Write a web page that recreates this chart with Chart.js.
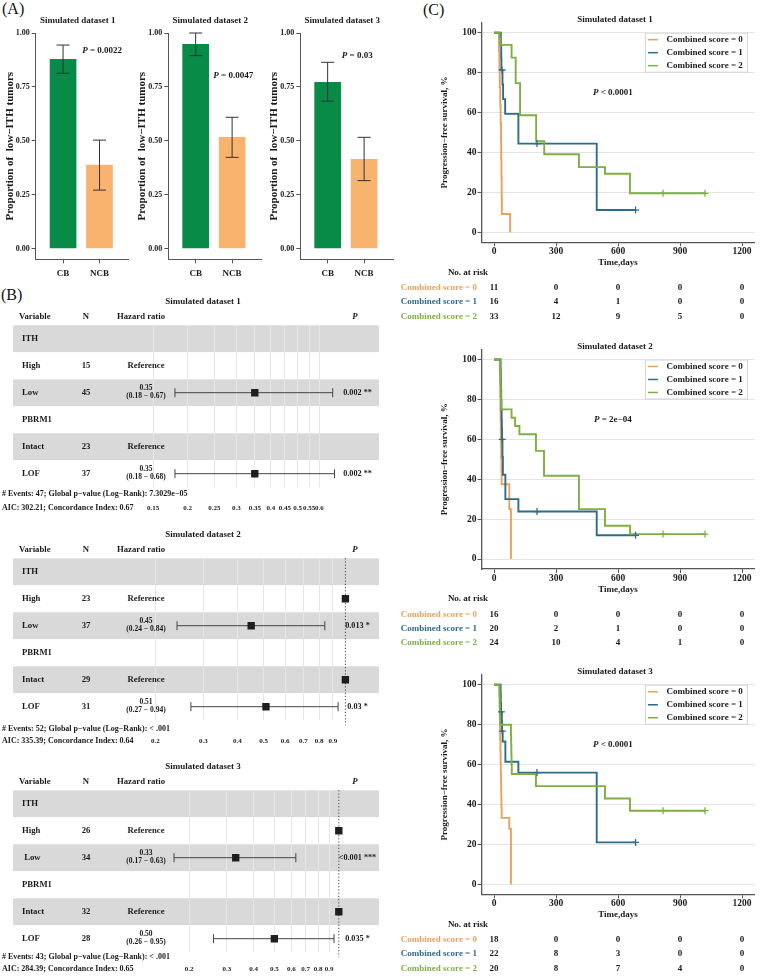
<!DOCTYPE html>
<html>
<head>
<meta charset="utf-8">
<title>Simulated datasets</title>
<script src="https://cdn.jsdelivr.net/npm/chart.js@4.4.1/dist/chart.umd.min.js"></script>
<style>
  html, body { margin: 0; padding: 0; background: #fff; }
  #page { position: relative; width: 760px; height: 979px; overflow: hidden; }
  #page canvas { position: absolute; left: 0; top: 0; }
  .tag { position: absolute; font-family: 'Liberation Serif', 'Times New Roman', serif; font-size: 16px; line-height: 16px; color: #111; }
</style>
</head>
<body>
<div id="page">
  <div class="tag" style="left:2px;top:1px">(A)</div>
  <div class="tag" style="left:1px;top:287px">(B)</div>
  <div class="tag" style="left:423px;top:2px">(C)</div>
</div>
<script>
// ---------- panel A : proportion of low-ITH tumors ----------
const barGroups = ['CB', 'NCB'];
const barTicks = [0, 0.25, 0.5, 0.75, 1];
const propDs1 = [0.878, 0.387], lowDs1 = [0.813, 0.271], highDs1 = [0.944, 0.503];
const propDs2 = [0.948, 0.516], lowDs2 = [0.895, 0.423], highDs2 = [1.0, 0.609];
const propDs3 = [0.771, 0.414], lowDs3 = [0.684, 0.315], highDs3 = [0.864, 0.516];
const barP = ['0.0022', '0.0047', '0.03'];

// ---------- panel B : forest plots ----------
const forestRows = ['ITH', 'High', 'Low', 'PBRM1', 'Intact', 'LOF'];
const forest3Rows = ['ITH', 'High', ' Low', 'PBRM1', 'Intact', 'LOF'];
const forest1N = ['', '15', '45', '', '23', '37'];
const forest1HR = [null, 1, 0.35, null, 1, 0.35];
const forest1Lo = [null, null, 0.18, null, null, 0.18];
const forest1Hi = [null, null, 0.67, null, null, 0.68];
const forest1P = ['', '', '0.002 **', '', '', '0.002 **'];
const forest1Ticks = [0.15, 0.2, 0.25, 0.3, 0.35, 0.4, 0.45, 0.5, 0.55, 0.6];
const forest1Notes = ['# Events: 47; Global p\u2212value (Log\u2212Rank): 7.3029e\u221205', 'AIC: 302.21; Concordance Index: 0.67'];

const forest2N = ['', '23', '37', '', '29', '31'];
const forest2HR = [null, 1, 0.45, null, 1, 0.51];
const forest2Lo = [null, null, 0.24, null, null, 0.27];
const forest2Hi = [null, null, 0.84, null, null, 0.94];
const forest2P = ['', '', '0.013 *', '', '', '0.03 *'];
const forest2Ticks = [0.2, 0.3, 0.4, 0.5, 0.6, 0.7, 0.8, 0.9];
const forest2Notes = ['# Events: 52; Global p\u2212value (Log\u2212Rank): < .001', 'AIC: 335.39; Concordance Index: 0.64'];

const forest3N = ['', '26', '34', '', '32', '28'];
const forest3HR = [null, 1, 0.33, null, 1, 0.50];
const forest3Lo = [null, null, 0.17, null, null, 0.26];
const forest3Hi = [null, null, 0.63, null, null, 0.95];
const forest3P = ['', '', '<0.001 ***', '', '', '0.035 *'];
const forest3Ticks = [0.2, 0.3, 0.4, 0.5, 0.6, 0.7, 0.8, 0.9];
const forest3Notes = ['# Events: 43; Global p\u2212value (Log\u2212Rank): < .001', 'AIC: 284.39; Concordance Index: 0.65'];

// ---------- panel C : Kaplan-Meier curves ----------
const scoreLabels = ['Combined score = 0', 'Combined score = 1', 'Combined score = 2'];
const riskTimes = [0, 300, 600, 900, 1200];
const kmTicks = [0, 20, 40, 60, 80, 100];

const km1T0 = [0, 24, 26, 28, 30, 32, 34, 35, 36, 37, 38, 78];
const km1S0 = [100, 90.9, 81.8, 72.7, 63.6, 54.5, 45.5, 36.4, 27.3, 18.2, 9.1, 0];
const km1T1 = [0, 33, 35, 36, 41, 44, 54, 118, 497, 685];
const km1S1 = [100, 93.8, 87.5, 81.3, 74.0, 66.7, 59.3, 44.4, 11.1, 11.1];
const km1C1 = [39, 208, 685];
const km1T2 = [0, 27, 30, 85, 105, 126, 204, 243, 411, 537, 658, 1021];
const km1S2 = [100, 97.0, 93.9, 87.5, 74.7, 58.6, 45.6, 39.1, 32.6, 29.3, 19.5, 19.5];
const km1C2 = [818, 1021];
const km1Risk = [[11, 0, 0, 0, 0], [16, 4, 1, 0, 0], [33, 12, 9, 5, 0]];

const km2T0 = [0, 28, 29, 30, 31, 32, 33, 34, 35, 36, 37, 74, 82];
const km2S0 = [100, 93.8, 87.5, 81.3, 75, 68.8, 62.5, 56.3, 50, 43.8, 37.5, 25, 0];
const km2T1 = [0, 32, 33, 34, 35, 36, 37, 38, 39, 41, 43, 55, 118, 497, 685];
const km2S1 = [100, 95, 90, 85, 80, 75, 70, 65, 60, 51.1, 42.2, 30, 23.8, 11.9, 11.9];
const km2C1 = [40, 208, 685];
const km2T2 = [0, 30, 31, 32, 33, 34, 35, 85, 102, 123, 203, 242, 411, 537, 658, 1021];
const km2S2 = [100, 95.8, 91.7, 87.5, 83.3, 79.2, 75, 70.8, 66.7, 62.5, 54.2, 41.7, 25, 16.7, 12.5, 12.5];
const km2C2 = [818, 1021];
const km2Risk = [[16, 0, 0, 0, 0], [20, 2, 1, 0, 0], [24, 10, 4, 1, 0]];

const km3T0 = [0, 26, 27, 28, 29, 30, 31, 32, 33, 34, 35, 36, 37, 74, 82];
const km3S0 = [100, 94.4, 88.9, 83.3, 77.8, 72.2, 66.7, 61.1, 55.6, 50, 44.4, 38.9, 33.3, 27.8, 0];
const km3T1 = [0, 32, 33, 34, 38, 39, 42, 55, 118, 497, 685];
const km3S1 = [100, 95.5, 90.9, 86.4, 81.6, 76.8, 71.6, 61.4, 56.0, 21.0, 21.0];
const km3C1 = [36, 40, 208, 685];
const km3T2 = [0, 27, 28, 29, 30, 82, 83, 84, 85, 86, 203, 537, 658, 1021];
const km3S2 = [100, 95, 90, 85, 80, 75, 70, 65, 60, 55.3, 49.2, 43.0, 36.9, 36.9];
const km3C2 = [818, 1021];
const km3Risk = [[18, 0, 0, 0, 0], [22, 8, 3, 0, 0], [20, 8, 7, 4, 0]];

// ---------- drawing ----------
const W = 760, H = 979;
const SERIF = "'Liberation Serif', 'Times New Roman', serif";
const INK = '#1a1a1a';
const barColors = ['#078B46', '#F8B36F'];
const scoreColors = ['#E8A25E', '#2E6C88', '#7FAF42'];

Chart.defaults.font.family = SERIF;
Chart.defaults.font.size = 9;
Chart.defaults.font.weight = 'bold';
Chart.defaults.color = INK;

const common = {
  responsive: false, animation: false, devicePixelRatio: 1, events: []
};

function makeCanvas() {
  const c = document.createElement('canvas');
  c.width = W; c.height = H;
  document.getElementById('page').appendChild(c);
  return c;
}

function txt(ctx, s, x, y, o) {
  o = o || {};
  ctx.save();
  ctx.font = (o.italic ? 'italic ' : '') + 'bold ' + (o.size || 9) + 'px ' + SERIF;
  ctx.fillStyle = o.color || INK;
  ctx.textAlign = o.align || 'left';
  ctx.textBaseline = 'middle';
  ctx.fillText(s, x, y);
  ctx.restore();
}

// italic P followed by the rest, centred on x
function pText(ctx, rest, x, y, size) {
  ctx.save();
  const fi = 'italic bold ' + size + 'px ' + SERIF, fb = 'bold ' + size + 'px ' + SERIF;
  ctx.font = fi; const w1 = ctx.measureText('P').width;
  ctx.font = fb; const w2 = ctx.measureText(rest).width;
  const x0 = x - (w1 + w2) / 2;
  ctx.textBaseline = 'middle'; ctx.textAlign = 'left'; ctx.fillStyle = INK;
  ctx.font = fi; ctx.fillText('P', x0, y);
  ctx.font = fb; ctx.fillText(rest, x0 + w1, y);
  ctx.restore();
}

// ---- bar charts
const errPlugin = {
  id: 'errbars',
  afterDatasetsDraw(chart, args, o) {
    const { ctx, scales: { x, y } } = chart;
    ctx.save();
    ctx.strokeStyle = '#333'; ctx.lineWidth = 1;
    o.low.forEach((lo, i) => {
      const px = x.getPixelForValue(i + 1);
      const a = y.getPixelForValue(lo), b = y.getPixelForValue(o.high[i]);
      ctx.beginPath();
      ctx.moveTo(px, a); ctx.lineTo(px, b);
      ctx.moveTo(px - 6.5, a); ctx.lineTo(px + 6.5, a);
      ctx.moveTo(px - 6.5, b); ctx.lineTo(px + 6.5, b);
      ctx.stroke();
    });
    ctx.restore();
  }
};

const barTextPlugin = {
  id: 'bartext',
  afterDraw(chart, args, o) {
    const { ctx, chartArea: a, scales: { x, y } } = chart;
    txt(ctx, o.title, a.left + 42, 21, { align: 'center' });
    pText(ctx, ' = ' + o.p, x.getPixelForValue(o.at[0]), y.getPixelForValue(o.at[1]), 9);
  }
};

function barChart(axisX, title, prop, low, high, p, at) {
  const L = axisX, R = axisX + 93, T = 33, B = 259.3, yW = 36, xH = 30;
  new Chart(makeCanvas(), {
    type: 'bar',
    data: {
      datasets: [{
        data: prop.map((v, i) => ({ x: i + 1, y: v })),
        backgroundColor: barColors, borderWidth: 0, barThickness: 26
      }]
    },
    options: Object.assign({}, common, {
      layout: { padding: { left: L - yW, top: T, right: W - R, bottom: H - B - xH } },
      scales: {
        x: {
          type: 'linear', min: 0.25, max: 2.8, offset: false,
          afterFit: s => { s.height = xH; },
          afterBuildTicks: s => { s.ticks = barGroups.map((g, i) => ({ value: i + 1 })); },
          ticks: { callback: v => barGroups[v - 1], padding: 5, maxRotation: 0, autoSkip: false },
          grid: { offset: false, drawOnChartArea: false, tickLength: 4, color: '#555' },
          border: { color: '#555' }
        },
        y: {
          min: -0.05, max: 1,
          afterFit: s => { s.width = yW; },
          afterBuildTicks: s => { s.ticks = barTicks.map(v => ({ value: v })); },
          ticks: { callback: v => v.toFixed(2), padding: 2, font: { size: 8 } },
          grid: { drawOnChartArea: false, tickLength: 4, color: '#555' },
          border: { color: '#555' },
          title: { display: true, text: 'Proportion of  low\u2212ITH tumors', font: { size: 11 }, padding: { top: 3.5, bottom: 0 } }
        }
      },
      plugins: {
        legend: { display: false }, tooltip: { enabled: false },
        errbars: { low: low, high: high },
        bartext: { title: title, p: p, at: at }
      }
    }),
    plugins: [errPlugin, barTextPlugin]
  });
}

barChart(35.7, 'Simulated dataset 1', propDs1, lowDs1, highDs1, barP[0], [2.07, 0.917]);
barChart(168.3, 'Simulated dataset 2', propDs2, lowDs2, highDs2, barP[1], [2.03, 0.80]);
barChart(300.3, 'Simulated dataset 3', propDs3, lowDs3, highDs3, barP[2], [1.81, 0.893]);

// ---- forest plots
function hrLines(hr, lo, hi) {
  if (hr == null) return null;
  if (lo == null) return ['Reference'];
  return [hr.toFixed(2), '(' + lo.toFixed(2) + ' \u2212 ' + hi.toFixed(2) + ')'];
}

const forestPlugin = {
  id: 'forest',
  beforeDraw(chart) {
    const { ctx, scales: { y } } = chart;
    ctx.save();
    ctx.fillStyle = '#d9d9d9';
    forestRows.forEach((r, i) => {
      if (i % 2 === 0) ctx.fillRect(13, y.getPixelForValue(i) - 13.4, 366, 26.8);
    });
    ctx.restore();
  },
  beforeDatasetsDraw(chart, args, o) {
    const { ctx, chartArea: a, scales: { x, y } } = chart;
    ctx.save();
    ctx.strokeStyle = '#444'; ctx.lineWidth = 1;
    if (x.max >= 1) {
      const px = x.getPixelForValue(1);
      ctx.setLineDash([1.2, 2]);
      ctx.beginPath(); ctx.moveTo(px, a.top); ctx.lineTo(px, a.bottom + 5); ctx.stroke();
      ctx.setLineDash([]);
    }
    o.lo.forEach((lo, i) => {
      if (lo == null) return;
      const py = y.getPixelForValue(i), p0 = x.getPixelForValue(lo), p1 = x.getPixelForValue(o.hi[i]);
      ctx.beginPath();
      ctx.moveTo(p0, py); ctx.lineTo(p1, py);
      ctx.moveTo(p0, py - 4.5); ctx.lineTo(p0, py + 4.5);
      ctx.moveTo(p1, py - 4.5); ctx.lineTo(p1, py + 4.5);
      ctx.stroke();
    });
    ctx.restore();
  },
  afterDraw(chart, args, o) {
    const { ctx, chartArea: a, scales: { y } } = chart;
    const y0 = y.getPixelForValue(0);
    txt(ctx, o.title, 203, y0 - 37.5, { align: 'center' });
    const hy = y0 - 21.6;
    txt(ctx, 'Variable', 19, hy, { size: 8.7 });
    txt(ctx, 'N', 86, hy, { size: 8.7, align: 'center' });
    txt(ctx, 'Hazard ratio', 117, hy, { size: 8.7 });
    txt(ctx, 'P', 355, hy, { size: 8.7, italic: true, align: 'center' });
    o.rows.forEach((r, i) => {
      const py = y.getPixelForValue(i);
      txt(ctx, r, 22, py, { size: 8.7 });
      if (o.n[i]) txt(ctx, o.n[i], 86, py, { size: 8.7, align: 'center' });
      const h = hrLines(o.hr[i], o.lo[i], o.hi[i]);
      if (h && h.length === 1) txt(ctx, h[0], 146, py, { size: 8.7, align: 'center' });
      if (h && h.length === 2) {
        txt(ctx, h[0], 146, py - 4.2, { size: 7.5, align: 'center' });
        txt(ctx, h[1], 146, py + 3.8, { size: 7.5, align: 'center' });
      }
      if (o.p[i]) txt(ctx, o.p[i], 357.5, py, { size: 8.2, align: 'center' });
    });
    txt(ctx, o.notes[0], 2, a.bottom + o.noteY[0], { size: 8 });
    txt(ctx, o.notes[1], 2, a.bottom + o.noteY[1], { size: 8 });
  }
};

function forestChart(cfg) {
  const L = 150, R = 350, T = cfg.y0 - 13.5, B = cfg.y0 + 148.5, xH = 30;
  new Chart(makeCanvas(), {
    type: 'scatter',
    data: {
      datasets: [{
        data: cfg.hr.map((v, i) => v == null ? null : { x: v, y: i }).filter(d => d),
        pointStyle: 'rect', pointRadius: 5.2, backgroundColor: '#1e1e1e', borderWidth: 0
      }]
    },
    options: Object.assign({}, common, {
      layout: { padding: { left: L, top: T, right: W - R, bottom: H - B - xH } },
      scales: {
        x: {
          type: 'logarithmic', min: cfg.min, max: cfg.max,
          afterFit: s => { s.height = xH; },
          afterBuildTicks: s => { s.ticks = cfg.ticks.map(v => ({ value: v })); },
          ticks: { callback: v => String(v), padding: cfg.tickPad, maxRotation: 0, autoSkip: false, font: { size: 7 } },
          grid: { drawTicks: false, color: '#e6e6e6', lineWidth: 1 },
          border: { display: false }
        },
        y: { type: 'linear', reverse: true, min: -0.5, max: 5.5, display: false }
      },
      plugins: {
        legend: { display: false }, tooltip: { enabled: false },
        forest: cfg
      }
    }),
    plugins: [forestPlugin]
  });
}

forestChart({ title: 'Simulated dataset 1', y0: 338.7, min: 0.1462, max: 0.7737, ticks: forest1Ticks, tickPad: 16.6,
  rows: forestRows, n: forest1N, hr: forest1HR, lo: forest1Lo, hi: forest1Hi, p: forest1P, notes: forest1Notes, noteY: [7.1, 20.5] });
forestChart({ title: 'Simulated dataset 2', y0: 571.7, min: 0.1909, max: 1.0397, ticks: forest2Ticks, tickPad: 16.6,
  rows: forestRows, n: forest2N, hr: forest2HR, lo: forest2Lo, hi: forest2Hi, p: forest2P, notes: forest2Notes, noteY: [8.8, 20.8] });
forestChart({ title: 'Simulated dataset 3', y0: 803.7, min: 0.1313, max: 1.128, ticks: forest3Ticks, tickPad: 12.6,
  rows: forest3Rows, n: forest3N, hr: forest3HR, lo: forest3Lo, hi: forest3Hi, p: forest3P, notes: forest3Notes, noteY: [4.8, 16.8] });

// ---- Kaplan-Meier curves
function survAt(times, surv, t) {
  let s = surv[0];
  times.forEach((tt, i) => { if (tt <= t) s = surv[i]; });
  return s;
}

const kmPlugin = {
  id: 'kmtext',
  afterDraw(chart, args, o) {
    const { ctx, chartArea: a, scales: { x, y } } = chart;
    txt(ctx, o.title, 615, a.top - 2.7, { align: 'center' });
    // legend box
    const bx = a.right - 109.5, by = y.getPixelForValue(100);
    ctx.save();
    ctx.fillStyle = '#fff'; ctx.fillRect(bx, by, 102, 39);
    ctx.strokeStyle = '#d4d4d4'; ctx.lineWidth = 1; ctx.strokeRect(bx + 0.5, by + 0.5, 102, 39);
    scoreLabels.forEach((s, i) => {
      const ly = by + 7 + 13 * i;
      ctx.strokeStyle = scoreColors[i]; ctx.lineWidth = 1.5;
      ctx.beginPath(); ctx.moveTo(bx + 3, ly); ctx.lineTo(bx + 13, ly); ctx.stroke();
      txt(ctx, s, bx + 21.7, ly, {});
    });
    ctx.restore();
    pText(ctx, ' ' + o.p, x.getPixelForValue(575), y.getPixelForValue(70), 9);
    // number at risk
    txt(ctx, 'No. at risk', 468, a.bottom + 30, { align: 'center' });
    o.risk.forEach((row, g) => {
      const ry = a.bottom + 45.5 + 14.3 * g;
      txt(ctx, scoreLabels[g], 477, ry, { align: 'right', color: scoreColors[g] });
      row.forEach((n, j) => txt(ctx, String(n), x.getPixelForValue(riskTimes[j]), ry, { align: 'center' }));
    });
  }
};

function kmChart(title, T, times, survs, cens, risk, p) {
  const L = 481.6, R = 754.4, B = T + 219.5, yW = 42, xH = 26;
  const datasets = [];
  times.forEach((t, g) => {
    datasets.push({
      data: t.map((v, i) => ({ x: v, y: survs[g][i] })),
      stepped: true, borderColor: scoreColors[g], borderWidth: 1.9,
      pointRadius: 0, fill: false, order: 3 - g
    });
  });
  cens.forEach((c, g) => {
    if (!c) return;
    datasets.push({
      data: c.map(v => ({ x: v, y: survAt(times[g], survs[g], v) })),
      showLine: false, pointStyle: 'cross', pointRadius: 3.5,
      borderColor: scoreColors[g], borderWidth: 1.3, order: 0
    });
  });
  new Chart(makeCanvas(), {
    type: 'line',
    data: { datasets: datasets },
    options: Object.assign({}, common, {
      layout: { padding: { left: L - yW, top: T, right: W - R, bottom: H - B - xH } },
      scales: {
        x: {
          type: 'linear', min: -60, max: 1260,
          afterFit: s => { s.height = xH; },
          afterBuildTicks: s => { s.ticks = riskTimes.map(v => ({ value: v })); },
          ticks: { callback: v => String(v), padding: 0, maxRotation: 0, autoSkip: false, font: { size: 9.5 } },
          grid: { drawOnChartArea: false, tickLength: 4, color: '#555' },
          border: { color: '#555', width: 1.3 },
          title: { display: true, text: 'Time,days', padding: 0 }
        },
        y: {
          min: -5, max: 105,
          afterFit: s => { s.width = yW; },
          afterBuildTicks: s => { s.ticks = kmTicks.map(v => ({ value: v })); },
          ticks: { callback: v => String(v), padding: 1, font: { size: 9.5 } },
          grid: { color: '#e4e4e4', tickColor: '#555', tickLength: 4 },
          border: { color: '#555', width: 1.3 },
          title: { display: true, text: 'Progression\u2212free survival, %', padding: 0 }
        }
      },
      plugins: {
        legend: { display: false }, tooltip: { enabled: false },
        kmtext: { title: title, risk: risk, p: p }
      }
    }),
    plugins: [kmPlugin]
  });
}

kmChart('Simulated dataset 1', 22.7, [km1T0, km1T1, km1T2], [km1S0, km1S1, km1S2], [null, km1C1, km1C2], km1Risk, '< 0.0001');
kmChart('Simulated dataset 2', 349.5, [km2T0, km2T1, km2T2], [km2S0, km2S1, km2S2], [null, km2C1, km2C2], km2Risk, '= 2e\u221204');
kmChart('Simulated dataset 3', 674.8, [km3T0, km3T1, km3T2], [km3S0, km3S1, km3S2], [null, km3C1, km3C2], km3Risk, '< 0.0001');
</script>
</body>
</html>
